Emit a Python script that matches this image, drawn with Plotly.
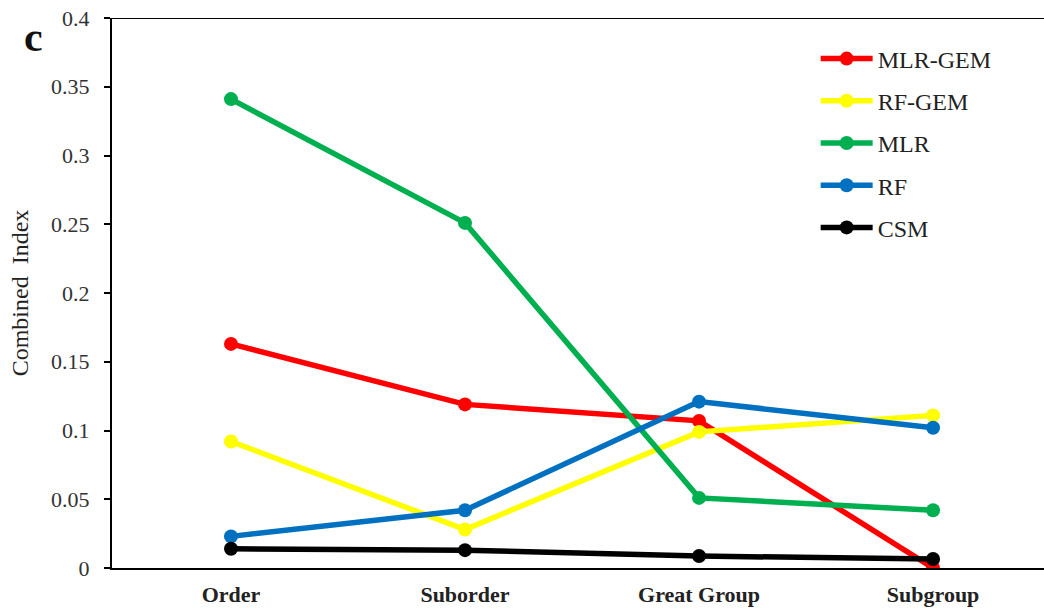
import plotly.graph_objects as go

# Taxonomic levels on the x axis
levels = ["Order", "Suborder", "Great Group", "Subgroup"]

# Combined index per method
mlr_gem = [0.163, 0.119, 0.107, 0.0]
rf_gem = [0.092, 0.028, 0.099, 0.111]
mlr = [0.341, 0.251, 0.051, 0.042]
rf = [0.023, 0.042, 0.121, 0.102]
csm = [0.014, 0.013, 0.0087, 0.0065]

y_ticks = [0, 0.05, 0.1, 0.15, 0.2, 0.25, 0.3, 0.35, 0.4]
y_tick_text = ["0", "0.05", "0.1", "0.15", "0.2", "0.25", "0.3", "0.35", "0.4"]

series = [
    ("MLR-GEM", mlr_gem, "#FF0000"),
    ("RF-GEM", rf_gem, "#FFFF00"),
    ("MLR", mlr, "#00B050"),
    ("RF", rf, "#0070C0"),
    ("CSM", csm, "#000000"),
]

SERIF = "Liberation Serif, Times New Roman, serif"

fig = go.Figure()
for name, vals, color in series:
    fig.add_trace(go.Scatter(
        x=levels, y=vals, name=name, mode="lines+markers",
        legendgroup=name,
        line=dict(color=color, width=5.5),
        marker=dict(color=color, size=14),
    ))

fig.update_layout(
    width=1044, height=609,
    margin=dict(l=112, r=0, t=18, b=41),
    plot_bgcolor="white", paper_bgcolor="white",
    font=dict(family=SERIF, color="#222222"),
    showlegend=True,
    legend=dict(
        x=0.755, y=(568 - 143) / 550, xanchor="left", yanchor="middle",
        font=dict(family=SERIF, size=24, color="#222222"),
        bgcolor="rgba(0,0,0,0)",
        traceorder="grouped", tracegroupgap=8,
        itemwidth=52,
    ),
    xaxis=dict(
        type="category",
        range=[-0.5085, 3.474],
        showline=True, linecolor="black", linewidth=2,
        ticks="", showgrid=False, zeroline=False,
        ticklabelstandoff=6,
        tickfont=dict(family=SERIF, size=22, color="#222222", weight="bold"),
    ),
    yaxis=dict(
        range=[0, 0.4],
        tickvals=y_ticks, ticktext=y_tick_text,
        showline=True, linecolor="black", linewidth=2,
        ticks="outside", ticklen=6, tickwidth=2, tickcolor="black",
        showgrid=False, zeroline=False,
        ticklabelstandoff=10,
        tickfont=dict(family=SERIF, size=22, color="#333333"),
        title=dict(text="Combined  Index", font=dict(family=SERIF, size=24, color="#222222"), standoff=16),
    ),
    annotations=[
        dict(text="<b>c</b>", xref="paper", yref="paper",
             x=(33 - 112) / 932, y=(568 - 37) / 550,
             xanchor="center", yanchor="middle",
             showarrow=False, font=dict(family=SERIF, size=42, color="#111111")),
    ],
    shapes=[
        dict(type="line", xref="paper", yref="y", x0=-0.007, x1=1, y0=0.4, y1=0.4,
             line=dict(color="black", width=2)),
    ],
)

fig.write_html("out.html")
